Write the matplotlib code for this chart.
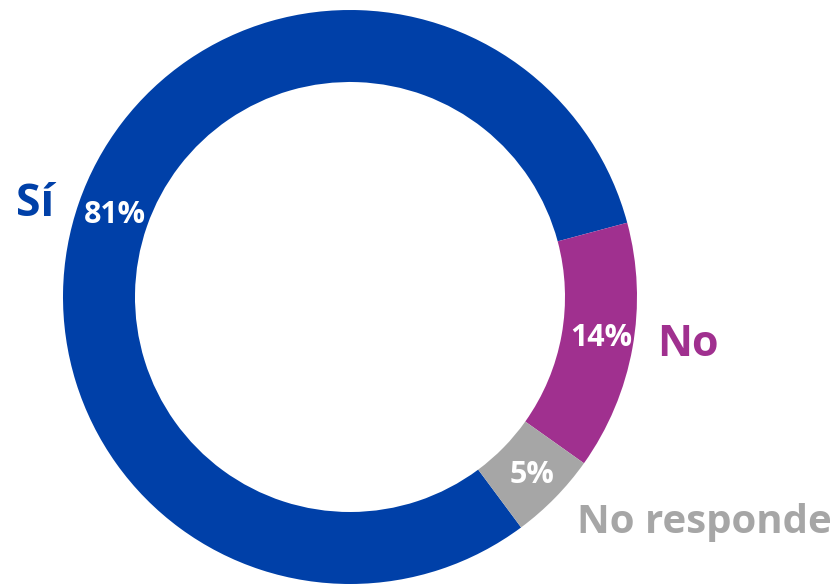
import matplotlib.pyplot as plt

# data
labels = ['Sí', 'No', 'No responde']
values = [81, 14, 5]
colors = ['#0040A8', '#A0308F', '#A6A6A6']

plt.rcParams['font.family'] = ['Open Sans', 'DejaVu Sans']

fig = plt.figure(figsize=(8.38, 5.84), dpi=100)
ax = fig.add_axes([0, 0, 1, 1])

wedges, texts = ax.pie(values, colors=colors, startangle=-53.4, counterclock=False,
                       center=(350, 287), radius=287, frame=True,
                       wedgeprops=dict(width=72, edgecolor='none'))
ax.set_xlim(0, 838)
ax.set_ylim(0, 584)
ax.axis('off')

# percent labels in the ring
pct_pos = [(115, 369), (601, 246), (532, 109)]
for (x, y), v in zip(pct_pos, values):
    ax.text(x, y, f'{v}%', color='white', fontsize=22, fontweight='bold',
            ha='center', va='center')

# outer category labels
lab_pos = [(35, 379), (688, 239), (704, 62)]
lab_size = [32, 31, 29]
for (x, y), lab, c, s in zip(lab_pos, labels, colors, lab_size):
    ax.text(x, y, lab, color=c, fontsize=s, fontweight='bold',
            ha='center', va='center')

plt.savefig('out.png', dpi=100)
